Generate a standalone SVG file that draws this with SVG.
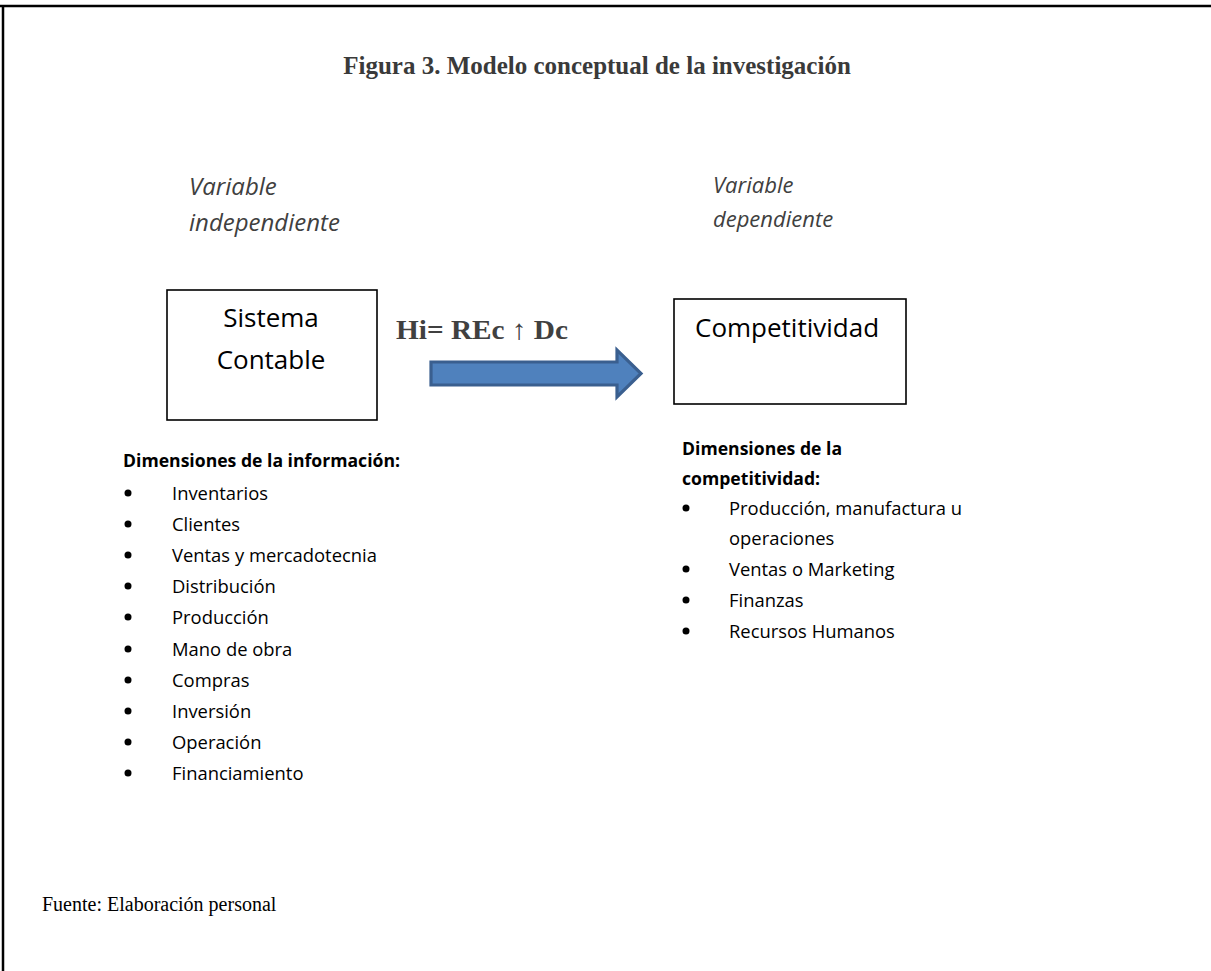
<svg xmlns="http://www.w3.org/2000/svg" width="1211" height="971" viewBox="0 0 1211 971">
<style>
.title{font-family:"Liberation Serif",serif;font-weight:bold;font-size:25px;fill:#3a3a3a}
.var{font-family:"Open Sans","Liberation Sans",sans-serif;font-style:italic;fill:#404040}
.box{fill:#fff;stroke:#000;stroke-width:1.6}
.lbl{font-family:"Open Sans","Liberation Sans",sans-serif;font-size:26px;fill:#000}
.hi{font-family:"Liberation Serif",serif;font-weight:bold;font-size:28px;fill:#404040}
.hd{font-family:"Open Sans","Liberation Sans",sans-serif;font-weight:bold;font-size:17.6px;fill:#000}
.it{font-family:"Open Sans","Liberation Sans",sans-serif;font-size:18.4px;fill:#000}
.src{font-family:"Liberation Serif",serif;font-size:20px;fill:#000}
</style>
<rect x="0" y="0" width="1211" height="971" fill="#fff"/>
<g id="frame" stroke="#000" stroke-width="2.5" fill="none">
<line x1="0" y1="6" x2="1211" y2="6"/>
<line x1="3" y1="5" x2="3" y2="971"/>
</g>
<text class="title" x="597" y="74" text-anchor="middle">Figura 3. Modelo conceptual de la investigación</text>
<g id="var-indep">
<text class="var" x="189" y="195" font-size="24">Variable</text>
<text class="var" x="189" y="231" font-size="24">independiente</text>
</g>
<g id="var-dep">
<text class="var" x="713" y="193" font-size="22">Variable</text>
<text class="var" x="713" y="227" font-size="22">dependiente</text>
</g>
<g id="sistema-contable">
<rect class="box" x="167" y="290" width="210" height="130"/>
<text class="lbl" x="271" y="327" text-anchor="middle">Sistema</text>
<text class="lbl" x="271" y="369" text-anchor="middle">Contable</text>
</g>
<g id="competitividad">
<rect class="box" x="674" y="299" width="232" height="105"/>
<text class="lbl" x="695" y="337">Competitividad</text>
</g>
<g id="connectors">
<text class="hi" x="396" y="339" textLength="172" lengthAdjust="spacingAndGlyphs">Hi= REc ↑ Dc</text>
<path d="M431,362 H617 V350 L641,373.5 L617,397 V385 H431 Z" fill="#4f81bd" stroke="#3a5f8f" stroke-width="3.2" stroke-linejoin="miter"/>
</g>
<g id="dim-info">
<text class="hd" x="123" y="467">Dimensiones de la información:</text>
<g class="it">
<text x="172" y="500">Inventarios</text>
<text x="172" y="531">Clientes</text>
<text x="172" y="562">Ventas y mercadotecnia</text>
<text x="172" y="593">Distribución</text>
<text x="172" y="624">Producción</text>
<text x="172" y="656">Mano de obra</text>
<text x="172" y="687">Compras</text>
<text x="172" y="718">Inversión</text>
<text x="172" y="749">Operación</text>
<text x="172" y="780">Financiamiento</text>
</g>
<g fill="#000">
<circle cx="128" cy="493" r="3.5"/><circle cx="128" cy="524" r="3.5"/><circle cx="128" cy="555" r="3.5"/><circle cx="128" cy="586" r="3.5"/><circle cx="128" cy="617" r="3.5"/><circle cx="128" cy="649" r="3.5"/><circle cx="128" cy="680" r="3.5"/><circle cx="128" cy="711" r="3.5"/><circle cx="128" cy="742" r="3.5"/><circle cx="128" cy="773" r="3.5"/>
</g>
</g>
<g id="dim-comp">
<text class="hd" x="682" y="455">Dimensiones de la</text>
<text class="hd" x="682" y="485">competitividad:</text>
<g class="it">
<text x="729" y="515">Producción, manufactura u</text>
<text x="729" y="545">operaciones</text>
<text x="729" y="576">Ventas o Marketing</text>
<text x="729" y="607">Finanzas</text>
<text x="729" y="638">Recursos Humanos</text>
</g>
<g fill="#000">
<circle cx="686" cy="508" r="3.5"/><circle cx="686" cy="569" r="3.5"/><circle cx="686" cy="600" r="3.5"/><circle cx="686" cy="631" r="3.5"/>
</g>
</g>
<text class="src" x="42" y="911">Fuente: Elaboración personal</text>
</svg>
